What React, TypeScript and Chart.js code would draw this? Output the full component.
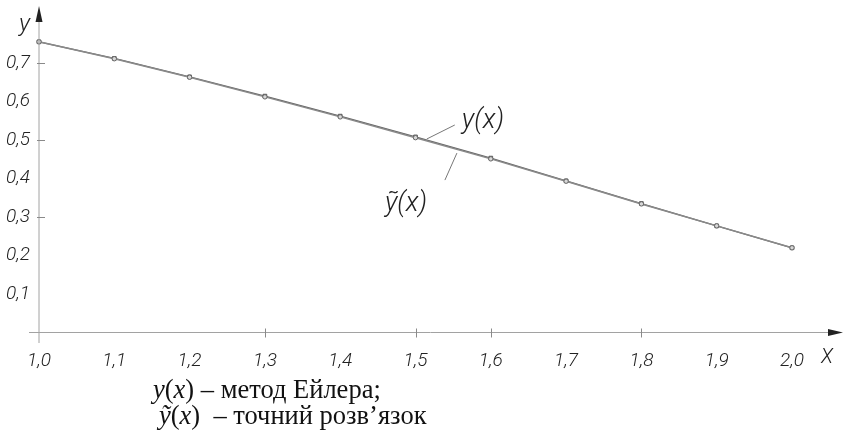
import React, { useEffect, useRef } from "react";
import { Chart, registerables } from "chart.js";

Chart.register(...registerables);

// ---- data ----
const xValues = [1.0, 1.1, 1.2, 1.3, 1.4, 1.5, 1.6, 1.7, 1.8, 1.9, 2.0];
const eulerValues = [0.755, 0.712, 0.664, 0.614, 0.562, 0.508, 0.453, 0.394, 0.335, 0.277, 0.22];
const exactValues = [0.755, 0.711, 0.663, 0.612, 0.56, 0.506, 0.451, 0.393, 0.334, 0.277, 0.22];
const xTickValues = [1.0, 1.1, 1.2, 1.3, 1.4, 1.5, 1.6, 1.7, 1.8, 1.9, 2.0];
const yTickValues = [0.1, 0.2, 0.3, 0.4, 0.5, 0.6, 0.7];
const xTickMarks = [1.3, 1.5, 1.6, 1.8];
const yTickMarks = [0.3, 0.5, 0.7];
const xAxisTitle = "X";
const yAxisTitle = "y";
const eulerLabel = "y(x)";
const exactLabel = "ỹ(x)";
const eulerAnchor = [1.515, 0.5026];
const exactAnchor = [1.555, 0.466];

const TECH_FONT = "Roboto, 'DejaVu Sans', sans-serif";
const SERIF = "'Liberation Serif', 'DejaVu Serif', serif";

const fmt = (v: number) => v.toFixed(1).replace(".", ",");

const decorPlugin = {
  id: "decor",
  afterDraw(chart: any) {
    const ctx: CanvasRenderingContext2D = chart.ctx;
    const xs = chart.scales.x;
    const ys = chart.scales.y;
    const x0 = xs.getPixelForValue(1.0);
    const y0 = ys.getPixelForValue(0);
    ctx.save();
    // axes
    ctx.strokeStyle = "#a2a2a2";
    ctx.lineWidth = 1;
    ctx.beginPath();
    ctx.moveTo(29, y0);
    ctx.lineTo(832, y0);
    ctx.moveTo(x0, 343);
    ctx.lineTo(x0, 16);
    ctx.stroke();
    // arrows
    ctx.fillStyle = "#222";
    ctx.beginPath();
    ctx.moveTo(843, y0);
    ctx.lineTo(828, y0 - 3.5);
    ctx.lineTo(828, y0 + 3.5);
    ctx.closePath();
    ctx.fill();
    ctx.beginPath();
    ctx.moveTo(x0, 6);
    ctx.lineTo(x0 - 3.5, 22);
    ctx.lineTo(x0 + 3.5, 22);
    ctx.closePath();
    ctx.fill();
    // tick marks
    ctx.strokeStyle = "#8a8a8a";
    ctx.beginPath();
    xTickMarks.forEach((v) => {
      const px = Math.round(xs.getPixelForValue(v)) + 0.5;
      ctx.moveTo(px, y0 - 4);
      ctx.lineTo(px, y0 + 5);
    });
    yTickMarks.forEach((v) => {
      const py = Math.round(ys.getPixelForValue(v)) + 0.5;
      ctx.moveTo(x0 - 2, py);
      ctx.lineTo(x0 + 6, py);
    });
    ctx.stroke();
    // axis titles
    ctx.fillStyle = "#222";
    ctx.textBaseline = "alphabetic";
    ctx.textAlign = "left";
    ctx.font = `italic 300 24px ${TECH_FONT}`;
    ctx.fillText(yAxisTitle, 19, 31);
    ctx.font = `italic 300 20px ${TECH_FONT}`;
    ctx.fillText(xAxisTitle, 821, 363);
    // annotations
    const a1x = xs.getPixelForValue(eulerAnchor[0]);
    const a1y = ys.getPixelForValue(eulerAnchor[1]);
    const a2x = xs.getPixelForValue(exactAnchor[0]);
    const a2y = ys.getPixelForValue(exactAnchor[1]);
    ctx.strokeStyle = "#777";
    ctx.beginPath();
    ctx.moveTo(a1x, a1y);
    ctx.lineTo(a1x + 28, a1y - 14);
    ctx.moveTo(a2x, a2y);
    ctx.lineTo(a2x - 12, a2y + 27);
    ctx.stroke();
    ctx.fillStyle = "#222";
    ctx.font = `italic 300 27px ${TECH_FONT}`;
    ctx.fillText(eulerLabel, a1x + 35, a1y - 11);
    ctx.fillText(exactLabel, a2x - 72, a2y + 58);
    // caption
    ctx.fillStyle = "#111";
    const drawParts = (parts: [string, boolean][], x: number, y: number) => {
      let cx = x;
      parts.forEach(([t, it]) => {
        ctx.font = `${it ? "italic " : ""}26.5px ${SERIF}`;
        ctx.fillText(t, cx, y);
        cx += ctx.measureText(t).width;
      });
    };
    drawParts(
      [["y", true], ["(", false], ["x", true], [")", false], [" – метод Ейлера;", false]],
      153,
      398
    );
    drawParts(
      [["ỹ", true], ["(", false], ["x", true], [")", false], ["  – точний розв’язок", false]],
      159,
      424
    );
    ctx.restore();
  },
};

export default function App() {
  const ref = useRef<HTMLCanvasElement | null>(null);
  useEffect(() => {
    document.body.style.margin = "0";
    const canvas = ref.current;
    if (!canvas) return;
    const chart = new Chart(canvas, {
      type: "line",
      data: {
        labels: xValues,
        datasets: [
          {
            label: "exact",
            data: xValues.map((x, i) => ({ x, y: exactValues[i] })),
            borderColor: "#8a8a8a",
            borderWidth: 1.5,
            pointStyle: "circle",
            pointRadius: 2.2,
            pointBorderWidth: 1,
            pointBorderColor: "#666",
            pointBackgroundColor: "#d8d8d8",
            tension: 0,
            clip: false,
          },
          {
            label: "euler",
            data: xValues.map((x, i) => ({ x, y: eulerValues[i] })),
            borderColor: "#666",
            borderWidth: 1.3,
            pointStyle: "rect",
            pointRadius: 2.6,
            pointBorderWidth: 1,
            pointBorderColor: "#555",
            pointBackgroundColor: "#bbb",
            tension: 0,
            clip: false,
          },
        ],
      },
      options: {
        animation: false,
        responsive: true,
        maintainAspectRatio: false,
        layout: { padding: { top: 24.5, right: 51, left: 0, bottom: 0 } },
        plugins: { legend: { display: false }, tooltip: { enabled: false } },
        scales: {
          x: {
            type: "linear",
            min: 1.0,
            max: 2.0,
            afterBuildTicks: (s: any) => {
              s.ticks = xTickValues.map((v) => ({ value: v }));
            },
            afterFit: (s: any) => {
              s.height = 102.5;
            },
            grid: { display: false, drawTicks: false },
            border: { display: false },
            ticks: {
              maxRotation: 0,
              autoSkip: false,
              padding: 17,
              color: "#222",
              font: { family: TECH_FONT, size: 19, style: "italic", weight: "300" },
              callback: (v: any) => fmt(Number(v)),
            },
          },
          y: {
            type: "linear",
            min: 0,
            max: 0.8,
            afterBuildTicks: (s: any) => {
              s.ticks = yTickValues.map((v) => ({ value: v }));
            },
            afterFit: (s: any) => {
              s.width = 39;
            },
            grid: { display: false, drawTicks: false },
            border: { display: false },
            ticks: {
              autoSkip: false,
              padding: 9,
              color: "#222",
              font: { family: TECH_FONT, size: 19, style: "italic", weight: "300" },
              callback: (v: any) => fmt(Number(v)),
            },
          },
        },
      },
      plugins: [decorPlugin],
    } as any);
    return () => chart.destroy();
  }, []);
  return (
    <div style={{ position: "relative", width: 843, height: 435, background: "#fff" }}>
      <canvas ref={ref} />
    </div>
  );
}
